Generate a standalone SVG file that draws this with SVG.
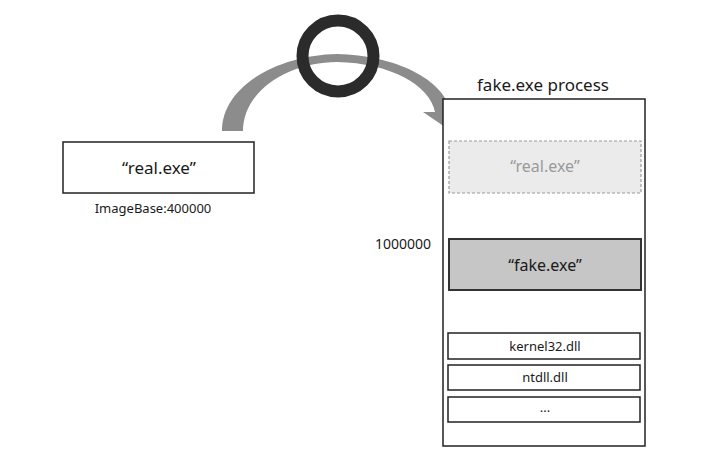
<svg xmlns="http://www.w3.org/2000/svg" width="727" height="459" viewBox="0 0 727 459">
<style>
text{font-family:"Noto Sans","Liberation Sans",sans-serif;fill:#1a1a1a;text-anchor:middle}
.box{fill:#fff;stroke:#222;stroke-width:1.5}
.dll{font-size:13px}
</style>
<rect width="727" height="459" fill="#fff"/>
<g id="connectors">
<path d="M222,131 C222,85 280,55 337,54 C395,55 445,80 450,111 L461,111 L445,127 L423,112 L435,112 C430,85 390,63 337,62 C290,62 243,90 243,131 Z" fill="#8c8c8c"/>
<circle cx="338" cy="56" r="35.5" fill="none" stroke="#2b2b2b" stroke-width="12"/>
</g>
<g id="real-exe">
<rect class="box" x="63" y="142" width="191" height="51"/>
<text x="159" y="174" font-size="17">“real.exe”</text>
<text x="153" y="213" font-size="13">ImageBase:400000</text>
</g>
<g id="fake-process">
<text x="543" y="91" font-size="17">fake.exe process</text>
<rect class="box" x="443" y="99" width="202" height="347"/>
</g>
<g id="ghost-real">
<rect x="449" y="141" width="192" height="52" fill="#ebebeb" stroke="#9a9a9a" stroke-width="1.2" stroke-dasharray="3,2"/>
<text x="545" y="172" font-size="16" style="fill:#9a9a9a">“real.exe”</text>
</g>
<g id="fake-exe">
<text x="403" y="249" font-size="14">1000000</text>
<rect x="449" y="239" width="192" height="51" fill="#c6c6c6" stroke="#333" stroke-width="2"/>
<text x="545" y="271" font-size="16">“fake.exe”</text>
</g>
<g id="kernel32">
<rect class="box" x="448" y="333" width="192" height="26"/>
<text class="dll" x="545" y="351">kernel32.dll</text>
</g>
<g id="ntdll">
<rect class="box" x="448" y="365" width="192" height="25"/>
<text class="dll" x="545" y="382">ntdll.dll</text>
</g>
<g id="more">
<rect class="box" x="448" y="397" width="192" height="25"/>
<text class="dll" x="545" y="412">...</text>
</g>
</svg>
